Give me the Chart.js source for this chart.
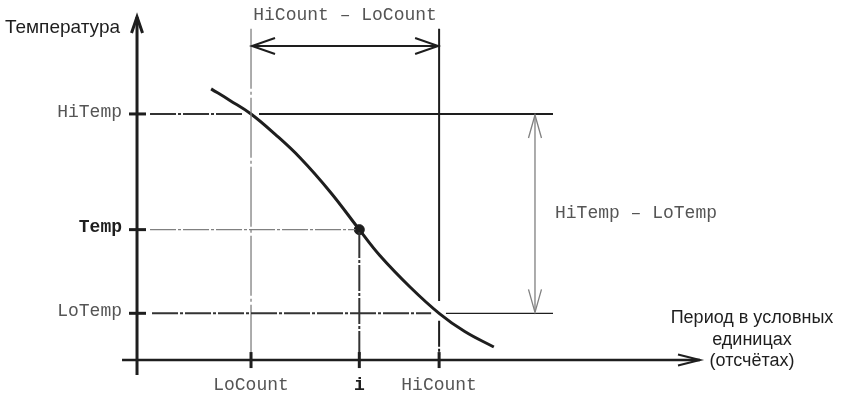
<!DOCTYPE html>
<html>
<head>
<meta charset="utf-8">
<script src="https://cdn.jsdelivr.net/npm/chart.js@4/dist/chart.umd.min.js"></script>
<style>
  html, body { margin: 0; padding: 0; background: #fff; }
  #diagram { display: block; }
</style>
</head>
<body>
<canvas id="diagram" width="843" height="396"></canvas>
<script>
// отметки по осям
const countLabels = ["LoCount", "i", "HiCount"];
const countValues = [20, 39, 53];
const tempLabels = ["HiTemp", "Temp", "LoTemp"];
const tempValues = [100, 53, 19];

// кривая температуры по отсчётам
const curveX = [13.0, 16.3, 20, 24.2, 28.6, 33.9, 39, 42.6, 47.9, 53, 57.5, 62.6];
const curveY = [110.2, 105.5, 100, 91.8, 82.2, 68.3, 53, 42.5, 29.7, 19, 11.6, 5.3];

const [LO_COUNT, I_COUNT, HI_COUNT] = countValues;
const [HI_TEMP, TEMP, LO_TEMP] = tempValues;

// границы рисунка (в единицах осей)
const X_MIN = -24.04, X_MAX = 123.86;
const Y_MIN = -14.6, Y_MAX = 146.3;
const AXIS_X_END = 98.77, AXIS_X_START = -2.63;
const AXIS_Y_END = 139.4, AXIS_Y_START = -6.1;
const GUIDE_LEFT = 2.28, GUIDE_RIGHT = 72.98, GUIDE_TOP = 134.6, GUIDE_BOTTOM = 2.0;
const SPAN_ARROW_Y = 127.6, SPAN_ARROW_X = 69.82;

const BLACK = "#1e1e1e";
const GRAY = "#808080";
const MONO = "'Courier New', 'Liberation Mono', monospace";
const SANS = "'Liberation Sans', Arial, sans-serif";
const DASH = [26, 2, 3, 2];

function seg(x1, y1, x2, y2, color, width, dash) {
    return {
        data: [{ x: x1, y: y1 }, { x: x2, y: y2 }],
        showLine: true,
        borderColor: color,
        borderWidth: width,
        borderDash: dash || [],
        pointRadius: 0,
        borderCapStyle: "butt"
    };
}

const datasets = [
    // оси
    seg(0, AXIS_Y_START, 0, AXIS_Y_END, BLACK, 3),
    seg(AXIS_X_START, 0, AXIS_X_END, 0, BLACK, 2.5),

    // HiTemp
    seg(GUIDE_LEFT, HI_TEMP, LO_COUNT - 1.5, HI_TEMP, "#333", 2, DASH),
    seg(LO_COUNT + 1.4, HI_TEMP, GUIDE_RIGHT, HI_TEMP, BLACK, 2),
    // Temp
    seg(GUIDE_LEFT, TEMP, I_COUNT - 0.7, TEMP, GRAY, 1.3, DASH),
    // LoTemp
    seg(GUIDE_LEFT + 0.35, LO_TEMP, HI_COUNT - 1.4, LO_TEMP, "#333", 2, DASH),
    seg(HI_COUNT + 1.2, LO_TEMP, GUIDE_RIGHT, LO_TEMP, BLACK, 1.3),

    // LoCount
    seg(LO_COUNT, GUIDE_TOP, LO_COUNT, GUIDE_BOTTOM, GRAY, 1.3, [60, 3, 3, 3]),
    // HiCount
    seg(HI_COUNT, GUIDE_TOP, HI_COUNT, LO_TEMP + 5, BLACK, 2),
    seg(HI_COUNT, LO_TEMP - 3, HI_COUNT, GUIDE_BOTTOM, BLACK, 2, DASH),
    // i
    seg(I_COUNT, TEMP - 1, I_COUNT, GUIDE_BOTTOM, "#333", 2, DASH),

    // стрелки диапазонов
    seg(LO_COUNT + 0.25, SPAN_ARROW_Y, HI_COUNT - 0.25, SPAN_ARROW_Y, BLACK, 2),
    seg(SPAN_ARROW_X, HI_TEMP - 0.6, SPAN_ARROW_X, LO_TEMP + 0.6, GRAY, 1.3),

    // кривая
    {
        data: curveX.map((x, k) => ({ x: x, y: curveY[k] })),
        showLine: true,
        borderColor: BLACK,
        borderWidth: 3,
        pointRadius: 0,
        tension: 0.4
    },
    // точка i
    {
        data: [{ x: I_COUNT, y: TEMP }],
        showLine: false,
        pointRadius: 5,
        backgroundColor: BLACK,
        borderColor: BLACK
    }
];

function arrowHead(ctx, x, y, dx, dy, len, half) {
    const nx = -dy, ny = dx;
    ctx.beginPath();
    ctx.moveTo(x - dx * len + nx * half, y - dy * len + ny * half);
    ctx.lineTo(x, y);
    ctx.lineTo(x - dx * len - nx * half, y - dy * len - ny * half);
    ctx.stroke();
}

const annotations = {
    id: "annotations",
    afterDatasetsDraw(chart) {
        const ctx = chart.ctx;
        const sx = chart.scales.x, sy = chart.scales.y;
        const px = v => sx.getPixelForValue(v);
        const py = v => sy.getPixelForValue(v);
        const ox = px(0), oy = py(0);

        ctx.save();
        ctx.lineCap = "butt";

        // засечки
        ctx.strokeStyle = BLACK;
        ctx.lineWidth = 3;
        tempValues.forEach(t => {
            ctx.beginPath();
            ctx.moveTo(ox - 8, py(t));
            ctx.lineTo(ox + 9, py(t));
            ctx.stroke();
        });
        countValues.forEach(c => {
            ctx.beginPath();
            ctx.moveTo(px(c), oy - 8);
            ctx.lineTo(px(c), oy + 8);
            ctx.stroke();
        });

        // наконечники осей
        ctx.lineWidth = 3;
        arrowHead(ctx, ox, py(AXIS_Y_END), 0, -1, 16, 5.5);
        ctx.lineWidth = 2;
        arrowHead(ctx, px(AXIS_X_END), oy, 1, 0, 22, 5.5);

        // наконечники диапазонов
        ctx.lineWidth = 2;
        arrowHead(ctx, px(LO_COUNT) + 1, py(SPAN_ARROW_Y), -1, 0, 23, 8);
        arrowHead(ctx, px(HI_COUNT) - 1, py(SPAN_ARROW_Y), 1, 0, 23, 8);
        ctx.strokeStyle = GRAY;
        ctx.lineWidth = 1.3;
        arrowHead(ctx, px(SPAN_ARROW_X), py(HI_TEMP) + 1, 0, -1, 23, 6.5);
        arrowHead(ctx, px(SPAN_ARROW_X), py(LO_TEMP) - 1, 0, 1, 23, 6.5);

        // подписи отметок
        ctx.textBaseline = "middle";
        ctx.textAlign = "right";
        tempLabels.forEach((label, k) => {
            const bold = label === "Temp";
            ctx.font = (bold ? "bold " : "") + "18px " + MONO;
            ctx.fillStyle = bold ? BLACK : "#555";
            ctx.fillText(label, ox - 15, py(tempValues[k]) - 2);
        });
        ctx.textAlign = "center";
        countLabels.forEach((label, k) => {
            const bold = label === "i";
            ctx.font = (bold ? "bold " : "") + "18px " + MONO;
            ctx.fillStyle = bold ? BLACK : "#555";
            ctx.fillText(label, px(countValues[k]), oy + 25);
        });

        // подписи диапазонов
        ctx.font = "18px " + MONO;
        ctx.fillStyle = "#555";
        ctx.textAlign = "center";
        ctx.fillText("HiCount – LoCount", px((LO_COUNT + HI_COUNT) / 2), py(SPAN_ARROW_Y) - 31);
        ctx.textAlign = "left";
        ctx.fillText("HiTemp – LoTemp", px(SPAN_ARROW_X) + 20, py((HI_TEMP + LO_TEMP) / 2));

        // названия осей
        ctx.font = "19px " + SANS;
        ctx.fillStyle = BLACK;
        ctx.textAlign = "right";
        ctx.fillText("Температура", ox - 17, py(AXIS_Y_END) + 11);
        ctx.font = "18px " + SANS;
        ctx.textAlign = "center";
        const cx = px(AXIS_X_END) + 52;
        ctx.fillText("Период в условных", cx, oy - 42);
        ctx.fillText("единицах", cx, oy - 20);
        ctx.fillText("(отсчётах)", cx, oy + 1);

        ctx.restore();
    }
};

new Chart(document.getElementById("diagram"), {
    type: "scatter",
    data: { datasets: datasets },
    options: {
        responsive: false,
        animation: false,
        events: [],
        layout: { padding: 0, autoPadding: false },
        scales: {
            x: { type: "linear", min: X_MIN, max: X_MAX, display: false },
            y: { type: "linear", min: Y_MIN, max: Y_MAX, display: false }
        },
        plugins: {
            legend: { display: false },
            tooltip: { enabled: false }
        }
    },
    plugins: [annotations]
});
</script>
</body>
</html>
